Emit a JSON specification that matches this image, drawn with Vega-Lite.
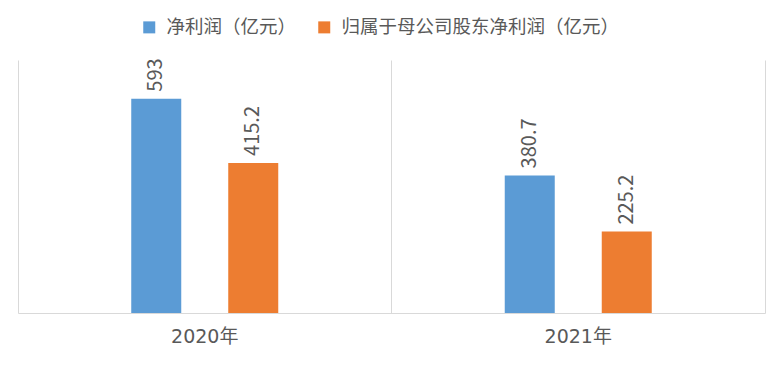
{
  "$schema": "https://vega.github.io/schema/vega-lite/v6.json",
  "width": 747,
  "height": 253,
  "autosize": {"type": "none"},
  "padding": {"left": 18, "top": 60, "right": 17, "bottom": 56},
  "background": "white",
  "config": {
    "view": {"stroke": null},
    "font": "Liberation Sans Narrow, Noto Sans CJK SC",
    "text": {"font": "Liberation Sans Narrow, Noto Sans CJK SC"}
  },
  "data": {
    "values": [
      {"year": "2020年", "series": "净利润（亿元）", "value": 593},
      {"year": "2020年", "series": "归属于母公司股东净利润（亿元）", "value": 415.2},
      {"year": "2021年", "series": "净利润（亿元）", "value": 380.7},
      {"year": "2021年", "series": "归属于母公司股东净利润（亿元）", "value": 225.2}
    ]
  },
  "encoding": {
    "x": {
      "field": "year", "type": "nominal",
      "scale": {"paddingInner": 0, "paddingOuter": 0},
      "axis": {
        "title": null, "labelAngle": 0, "labelFontSize": 19, "labelColor": "#595959",
        "labelFont": "DejaVu Sans, Noto Sans CJK SC",
        "labelPadding": 14, "ticks": false, "grid": true, "gridColor": "#d9d9d9",
        "bandPosition": 0, "domainColor": "#d9d9d9"
      }
    },
    "xOffset": {
      "field": "series", "type": "nominal",
      "scale": {"domain": ["_l", "净利润（亿元）", "归属于母公司股东净利润（亿元）", "_r"], "paddingInner": 0.4845, "paddingOuter": 0.1675}
    },
    "y": {
      "field": "value", "type": "quantitative",
      "scale": {"domain": [0, 700], "nice": false},
      "axis": {"orient": "right", "title": null, "labels": false, "ticks": false, "grid": false, "domainColor": "#d9d9d9"}
    }
  },
  "layer": [
    {
      "mark": {"type": "bar"},
      "encoding": {
        "color": {
          "field": "series", "type": "nominal",
          "scale": {"domain": ["净利润（亿元）", "归属于母公司股东净利润（亿元）"], "range": ["#5B9BD5", "#ED7D31"]},
          "legend": {
            "orient": "none", "legendX": 122, "legendY": -42, "title": null, "direction": "horizontal",
            "symbolType": "square", "symbolSize": 144, "symbolStrokeWidth": 0,
            "labelFontSize": 18.5, "labelColor": "#595959", "labelFont": "Noto Sans CJK SC",
            "labelOffset": 8, "columnPadding": 18, "labelLimit": 1000
          }
        }
      }
    },
    {
      "mark": {"type": "text", "angle": 270, "align": "left", "baseline": "middle", "dx": 7, "fontSize": 20, "color": "#595959"},
      "encoding": {
        "text": {"field": "value", "type": "quantitative", "format": ""}
      }
    }
  ]
}
